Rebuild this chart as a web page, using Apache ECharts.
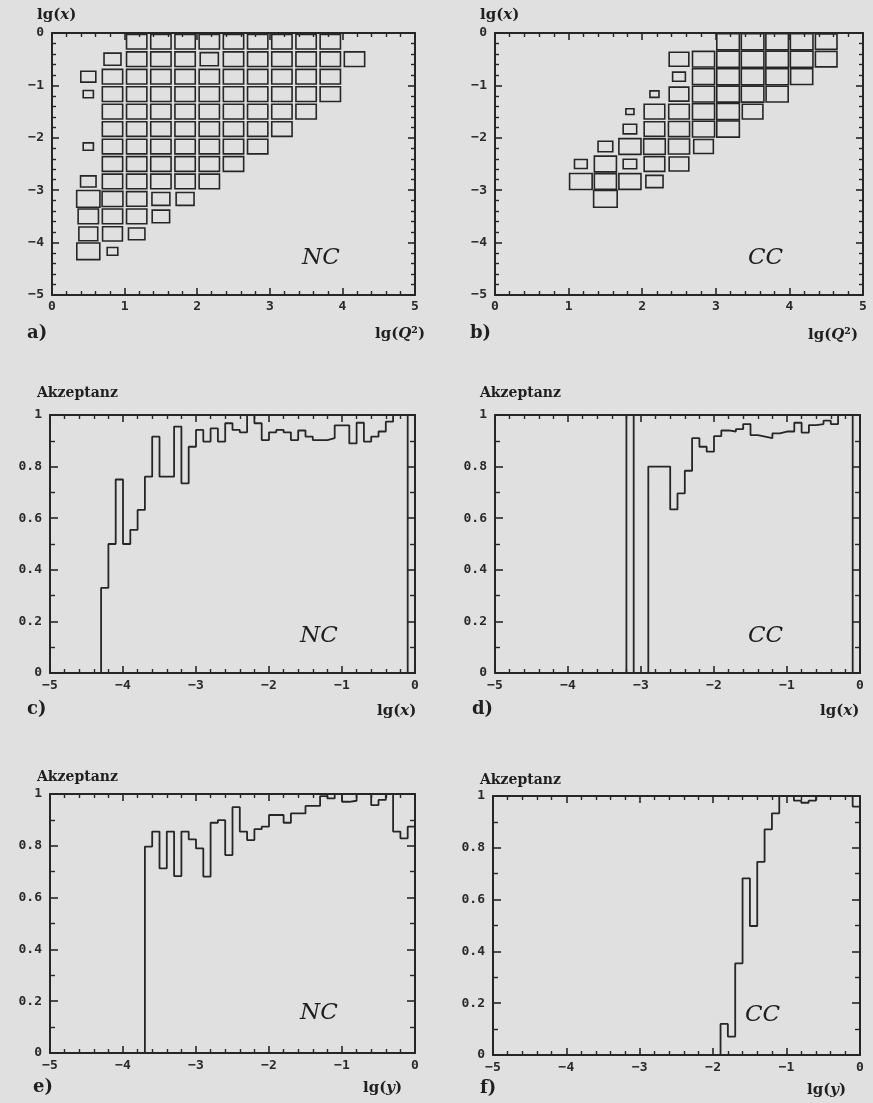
<!DOCTYPE html>
<html><head><meta charset="utf-8">
<script src="https://cdn.jsdelivr.net/npm/echarts@6/dist/echarts.min.js"></script>
<style>html,body{margin:0;padding:0;background:#e0e0e0}#c{width:873px;height:1103px}</style>
</head><body><div id="c"></div>
<script>
// ---------------- data ----------------
// tick labels
const kinTickX = ['0', '1', '2', '3', '4', '5'];
const kinTickY = ['−5', '−4', '−3', '−2', '−1', '0'];
const lgTickX = ['−5', '−4', '−3', '−2', '−1', '0'];
const accTickY = ['0', '0.2', '0.4', '0.6', '0.8', '1'];

// (a) NC, (b) CC box plots: [column, row, relative box size]
// column c spans lg(Q^2) in [c/3,(c+1)/3], row r spans lg(x) in [-(r+1)/3,-r/3]
const ncCells = [
  [3,0,.84],[4,0,.84],[5,0,.84],[6,0,.84],[7,0,.84],[8,0,.84],[9,0,.84],[10,0,.84],[11,0,.84],
  [2,1,.70],[3,1,.84],[4,1,.84],[5,1,.84],[6,1,.75],[7,1,.84],[8,1,.84],[9,1,.84],[10,1,.84],[11,1,.84],[12,1,.84],
  [1,2,.62],[2,2,.84],[3,2,.84],[4,2,.84],[5,2,.84],[6,2,.84],[7,2,.84],[8,2,.84],[9,2,.84],[10,2,.84],[11,2,.84],
  [1,3,.42],[2,3,.84],[3,3,.84],[4,3,.84],[5,3,.84],[6,3,.84],[7,3,.84],[8,3,.84],[9,3,.84],[10,3,.84],[11,3,.84],
  [2,4,.84],[3,4,.84],[4,4,.84],[5,4,.84],[6,4,.84],[7,4,.84],[8,4,.84],[9,4,.84],[10,4,.84],
  [2,5,.84],[3,5,.84],[4,5,.84],[5,5,.84],[6,5,.84],[7,5,.84],[8,5,.84],[9,5,.84],
  [1,6,.42],[2,6,.84],[3,6,.84],[4,6,.84],[5,6,.84],[6,6,.84],[7,6,.84],[8,6,.84],
  [2,7,.84],[3,7,.84],[4,7,.84],[5,7,.84],[6,7,.84],[7,7,.84],
  [1,8,.64],[2,8,.84],[3,8,.84],[4,8,.84],[5,8,.84],[6,8,.84],
  [1,9,.96],[2,9,.86],[3,9,.84],[4,9,.74],[5,9,.74],
  [1,10,.84],[2,10,.84],[3,10,.84],[4,10,.72],
  [1,11,.78],[2,11,.82],[3,11,.68],
  [1,12,.95],[2,12,.44]
];
const ccCells = [
  [9,0,.92],[10,0,.92],[11,0,.92],[12,0,.92],[13,0,.88],
  [7,1,.8],[8,1,.9],[9,1,.92],[10,1,.92],[11,1,.92],[12,1,.92],[13,1,.88],
  [7,2,.52],[8,2,.9],[9,2,.92],[10,2,.92],[11,2,.92],[12,2,.9],
  [6,3,.37],[7,3,.8],[8,3,.9],[9,3,.92],[10,3,.92],[11,3,.9],
  [5,4,.33],[6,4,.84],[7,4,.84],[8,4,.9],[9,4,.92],[10,4,.84],
  [5,5,.55],[6,5,.84],[7,5,.86],[8,5,.9],[9,5,.92],
  [4,6,.6],[5,6,.9],[6,6,.88],[7,6,.86],[8,6,.8],
  [3,7,.52],[4,7,.9],[5,7,.55],[6,7,.84],[7,7,.8],
  [3,8,.92],[4,8,.9],[5,8,.9],[6,8,.7],
  [4,9,.96]
];

// (c)-(f) acceptance histograms: first bin edge, bin width, bin values
const binW = 0.1;
const ncXStart = -4.3;
const ncXAcc = [0.33,0.50,0.75,0.50,0.555,0.632,0.761,0.916,0.761,0.761,0.955,0.735,0.877,0.942,0.897,0.948,0.897,0.968,0.942,0.933,1.0,0.968,0.903,0.933,0.942,0.933,0.903,0.94,0.916,0.903,0.903,0.91,0.96,0.96,0.89,0.97,0.897,0.916,0.936,0.974,1.0,1.0];
const ccXStart = -3.2;
const ccXAcc = [1.0,0,0,0.8,0.8,0.8,0.634,0.696,0.784,0.91,0.877,0.858,0.918,0.94,0.936,0.945,0.965,0.922,0.916,0.91,0.929,0.936,0.936,0.97,0.932,0.961,0.965,0.978,0.965,1.0,1.0];
const ncYStart = -3.7;
const ncYAcc = [0.797,0.855,0.713,0.855,0.683,0.855,0.825,0.79,0.681,0.889,0.899,0.764,0.949,0.855,0.822,0.864,0.874,0.919,0.919,0.889,0.925,0.925,0.954,0.954,0.992,0.983,1.0,0.97,0.974,1.0,1.0,0.957,0.977,1.0,0.855,0.829,0.874];
const ccYStart = -1.9;
const ccYAcc = [0.12,0.071,0.354,0.682,0.498,0.746,0.871,0.933,1.0,1.0,0.982,0.974,0.982,1.0,1.0,1.0,1.0,1.0,0.959];

// ---------------- chart ----------------
const INK = '#262626';
const TICKFONT = '"DejaVu Sans Mono"';
const SERIF = '"DejaVu Serif"';

const grids = [
  {left: 52, top: 33, width: 363, height: 262},
  {left: 495, top: 33, width: 368, height: 262},
  {left: 50, top: 415, width: 365, height: 258},
  {left: 495, top: 415, width: 365, height: 258},
  {left: 50, top: 794, width: 365, height: 259},
  {left: 493, top: 796, width: 367, height: 259}
].map(g => Object.assign({containLabel: false, outerBoundsMode: 'none', show: false}, g));

function axis(gi, pos, min, max, interval, minorSplit, labels, majorLen, minorLen, margin) {
  const show = (pos === 'bottom' || pos === 'left');
  return {
    type: 'value', gridIndex: gi, position: pos, min: min, max: max, interval: interval,
    axisLine: {show: true, onZero: false, lineStyle: {color: INK, width: 2}},
    axisTick: {show: true, inside: true, length: majorLen, lineStyle: {color: INK, width: 1.6}},
    minorTick: {show: true, splitNumber: minorSplit, length: minorLen, lineStyle: {color: INK, width: 1.4}},
    splitLine: {show: false}, minorSplitLine: {show: false},
    axisLabel: {
      show: show, margin: margin, color: '#2a2a2a', fontFamily: TICKFONT, fontWeight: 'bold', fontSize: 13,
      showMinLabel: true, showMaxLabel: true,
      formatter: v => labels[Math.round((v - min) / interval)]
    }
  };
}

const xAxes = [], yAxes = [];
// a, b
for (let gi = 0; gi < 2; gi++) {
  xAxes.push(axis(gi, 'bottom', 0, 5, 1, 5, kinTickX, 7, 4, 5));
  xAxes.push(axis(gi, 'top', 0, 5, 1, 5, kinTickX, 7, 4, 5));
  yAxes.push(axis(gi, 'left', -5, 0, 1, 5, kinTickY, 7, 4, 8));
  yAxes.push(axis(gi, 'right', -5, 0, 1, 5, kinTickY, 7, 4, 8));
}
// c-f
for (let gi = 2; gi < 6; gi++) {
  xAxes.push(axis(gi, 'bottom', -5, 0, 1, 5, lgTickX, 7, 4, 6));
  xAxes.push(axis(gi, 'top', -5, 0, 1, 5, lgTickX, 7, 4, 6));
  yAxes.push(axis(gi, 'left', 0, 1, 0.2, 2, accTickY, 8, 5, 8));
  yAxes.push(axis(gi, 'right', 0, 1, 0.2, 2, accTickY, 8, 5, 8));
}

function boxSeries(gi, cells) {
  return {
    type: 'custom', xAxisIndex: gi * 2, yAxisIndex: gi * 2, data: cells, animation: false, clip: false,
    renderItem: (params, api) => {
      const c = api.value(0), r = api.value(1), s = api.value(2);
      const cx = (c + 0.5) / 3, cy = -(r + 0.5) / 3, h = s / 6;
      const p0 = api.coord([cx - h, cy + h]);
      const p1 = api.coord([cx + h, cy - h]);
      return {type: 'rect', shape: {x: p0[0], y: p0[1], width: p1[0] - p0[0], height: p1[1] - p0[1]},
              style: {fill: 'none', stroke: INK, lineWidth: 1.6}};
    }
  };
}

function stepPoints(start, vals) {
  const pts = [[start, 0]];
  vals.forEach((v, i) => {
    const x0 = Math.round((start + i * binW) * 100) / 100;
    const x1 = Math.round((start + (i + 1) * binW) * 100) / 100;
    pts.push([x0, v], [x1, v]);
  });
  pts.push([Math.round((start + vals.length * binW) * 100) / 100, 0]);
  return pts;
}

function histSeries(gi, start, vals) {
  return {
    type: 'line', xAxisIndex: gi * 2, yAxisIndex: gi * 2, data: stepPoints(start, vals),
    symbol: 'none', showSymbol: false, animation: false, clip: false,
    lineStyle: {color: INK, width: 1.8}
  };
}

function txt(x, y, text, font, rich) {
  const st = {text: text, fill: '#1f1f1f', font: font, textAlign: 'left', textVerticalAlign: 'middle'};
  if (rich) st.rich = rich;
  return {type: 'text', x: x, y: y, style: st, z: 100};
}
const bRich = {
  b: {fontFamily: SERIF, fontWeight: 'bold', fontSize: 15, fill: '#1f1f1f'},
  i: {fontFamily: SERIF, fontWeight: 'bold', fontStyle: 'italic', fontSize: 15, fill: '#1f1f1f'}
};
const LGX = '{b|lg(}{i|x}{b|)}';
const LGQ = '{b|lg(}{i|Q}{b|²)}';
const LGY = '{b|lg(}{i|y}{b|)}';
const LBL = 'bold 18px ' + SERIF;
const PROC = 'italic 23px ' + SERIF;
const AKZ = 'bold 14px ' + SERIF;

const graphics = [
  txt(37, 15, LGX, '', bRich), txt(27, 333, 'a)', LBL), txt(375, 334, LGQ, '', bRich), txt(302, 258, 'NC', PROC),
  txt(480, 15, LGX, '', bRich), txt(470, 333, 'b)', LBL), txt(808, 335, LGQ, '', bRich), txt(748, 258, 'CC', PROC),
  txt(37, 393, 'Akzeptanz', AKZ), txt(27, 709, 'c)', LBL), txt(377, 711, LGX, '', bRich), txt(300, 636, 'NC', PROC),
  txt(480, 393, 'Akzeptanz', AKZ), txt(472, 709, 'd)', LBL), txt(820, 711, LGX, '', bRich), txt(748, 636, 'CC', PROC),
  txt(37, 777, 'Akzeptanz', AKZ), txt(33, 1087, 'e)', LBL), txt(363, 1088, LGY, '', bRich), txt(300, 1013, 'NC', PROC),
  txt(480, 780, 'Akzeptanz', AKZ), txt(480, 1088, 'f)', LBL), txt(807, 1090, LGY, '', bRich), txt(745, 1015, 'CC', PROC)
];

const chart = echarts.init(document.getElementById('c'), null, {renderer: 'canvas'});
chart.setOption({
  backgroundColor: '#e0e0e0',
  animation: false,
  grid: grids,
  xAxis: xAxes,
  yAxis: yAxes,
  series: [
    boxSeries(0, ncCells),
    boxSeries(1, ccCells),
    histSeries(2, ncXStart, ncXAcc),
    histSeries(3, ccXStart, ccXAcc),
    histSeries(4, ncYStart, ncYAcc),
    histSeries(5, ccYStart, ccYAcc)
  ],
  graphic: graphics
});
</script>
</body></html>
